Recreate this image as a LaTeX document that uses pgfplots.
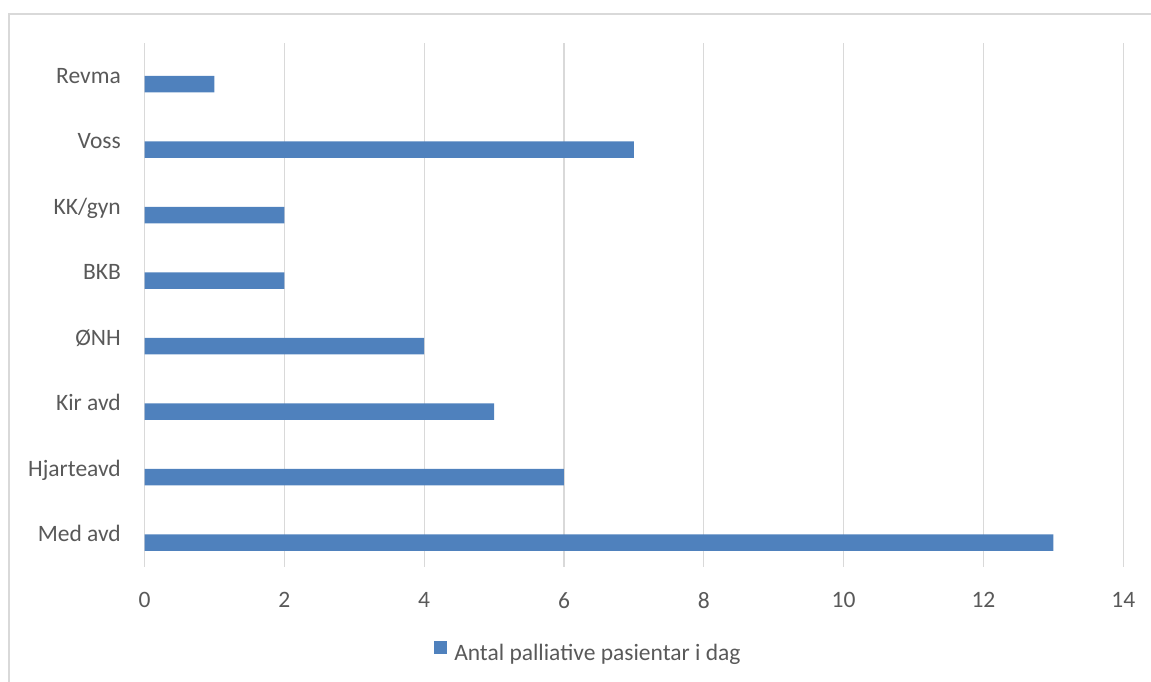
\documentclass[border=0pt]{standalone}
\usepackage{pgfplots}
\pgfplotsset{compat=1.18}
\usepackage{fontspec}
\setmainfont{Carlito}
\definecolor{barblue}{HTML}{4F81BD}
\definecolor{gridgray}{HTML}{D9D9D9}
\definecolor{txtgray}{HTML}{595959}
\begin{document}
\begin{tikzpicture}[x=1bp,y=1bp]
\useasboundingbox (0,0) rectangle (1151,682);
\draw[gridgray, line width=1.2bp] (9,-2) -- (9,668) -- (1153,668);
\begin{axis}[
  at={(144.5bp,115bp)}, anchor=south west,
  scale only axis, width=978.8bp, height=524bp,
  xbar, bar width=16.4bp, bar shift=-8.4bp,
  xmin=0, xmax=14, ymin=-0.5, ymax=7.5,
  xtick={0,2,...,14},
  ytick={0,...,7},
  yticklabels={Med avd,Hjarteavd,Kir avd,ØNH,BKB,KK/gyn,Voss,Revma},
  axis line style={draw=none},
  major tick length=0pt,
  xmajorgrids, grid style={gridgray, line width=1.2bp},
  /pgf/number format/assume math mode=true,
  tick label style={font=\fontsize{23.5bp}{28bp}\selectfont, text=txtgray, inner sep=0pt},
  yticklabel style={anchor=base east, xshift=-23.5bp, yshift=-7.4bp},
  xticklabel style={anchor=north, yshift=-25bp},
  legend style={at={(0.4525,-0.162)}, anchor=center, draw=none, fill=none,
    inner sep=0pt, font=\fontsize{23.5bp}{28bp}\selectfont, text=txtgray,
    nodes={inner sep=0pt, anchor=west}},
  legend image code/.code={\fill[barblue] (0bp,-1bp) rectangle (13bp,12bp); \path (20bp,0bp);},
]
\addplot[fill=barblue, draw=none] coordinates {(13,0) (6,1) (5,2) (4,3) (2,4) (2,5) (7,6) (1,7)};
\addlegendentry{Antal palliative pasientar i dag}
\end{axis}
\end{tikzpicture}
\end{document}
